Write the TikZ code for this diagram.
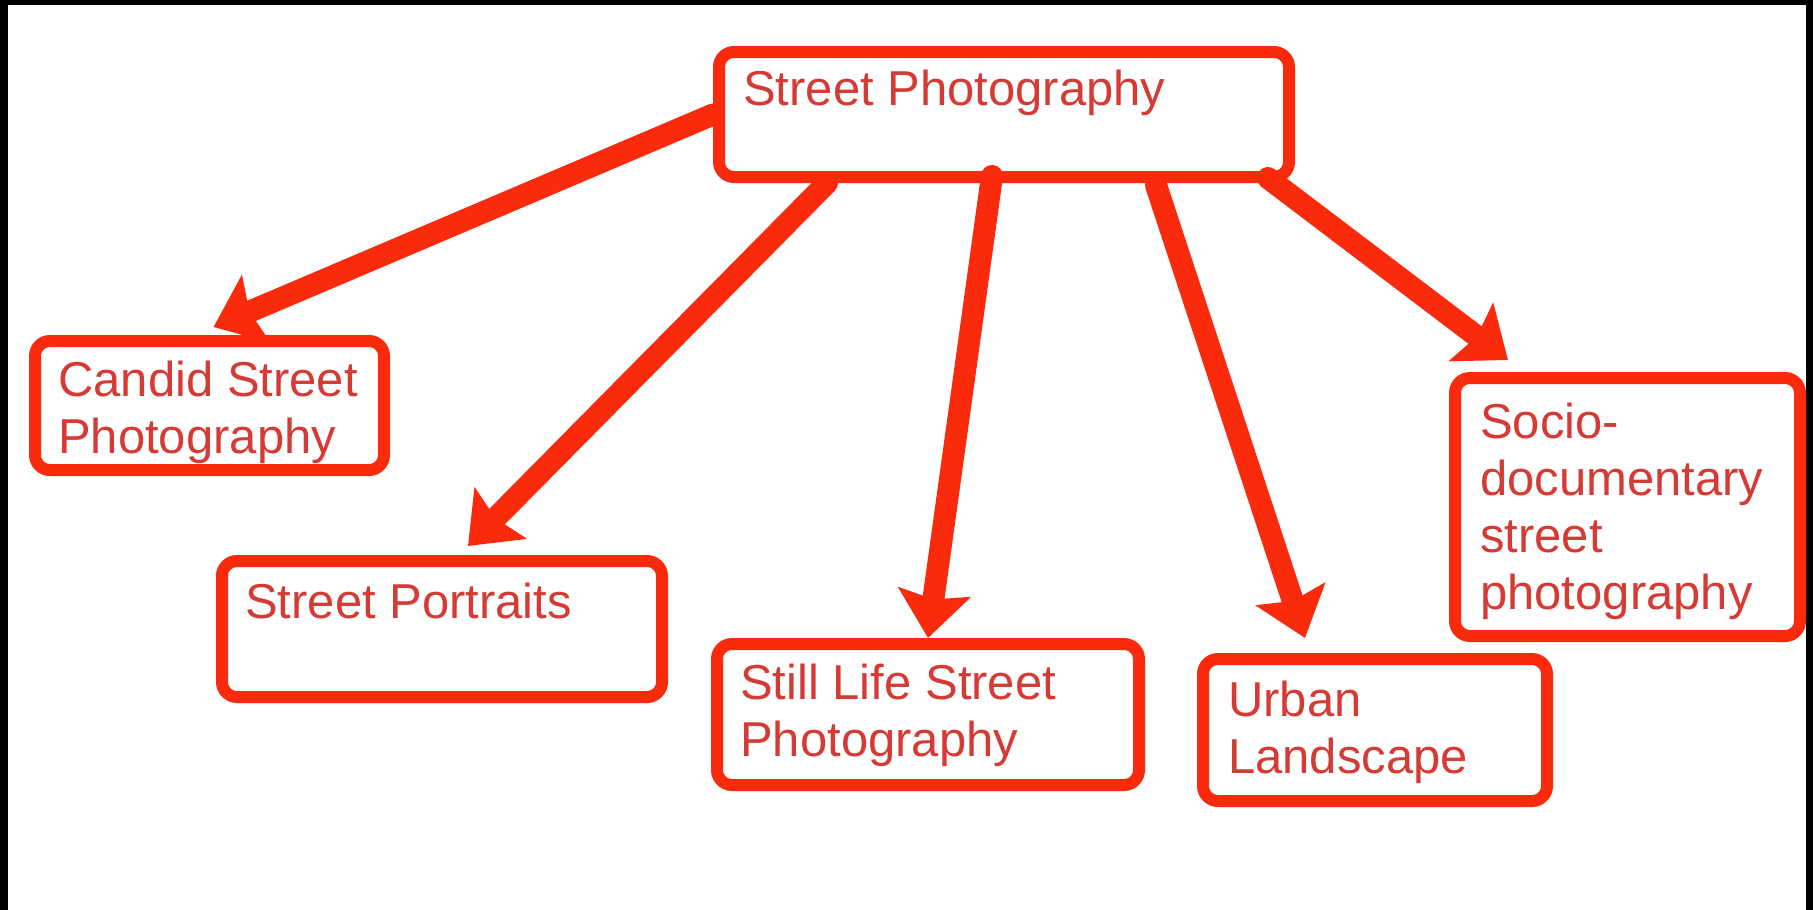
\documentclass[tikz,border=0pt]{standalone}
\usepackage{fontspec}
\setmainfont{Liberation Sans}
\usetikzlibrary{arrows.meta,shadows}
\definecolor{boxred}{RGB}{250,42,12}
\definecolor{textred}{RGB}{214,58,52}

\begin{document}
\begin{tikzpicture}[x=1pt,y=-1pt,
    topic/.style ={rectangle, draw=boxred, line width=12pt, rounded corners=15pt, fill=white, inner sep=0pt,
      drop shadow={opacity=0.25, shadow xshift=2pt, shadow yshift=-6pt}},
    boxtext/.style ={anchor=north west, inner sep=0pt, align=left, text=textred,
      font=\fontsize{49}{57}\selectfont},
    link/.style ={draw=boxred, line width=22pt, line cap=round,
      -{Stealth[length=46pt,width=72pt,inset=7pt]}}]
   \useasboundingbox (0,0) rectangle (1813,910);
   \fill[black] (0,0) rectangle (1813,910);
   \fill[white] (8,5) rectangle (1806,910);
   % boxes
   \node[topic, minimum width=570pt, minimum height=125pt] (street)    at (1004,114.5) {};
   \node[topic, minimum width=349pt, minimum height=129pt] (candid)    at (209.5,405.5) {};
   \node[topic, minimum width=440pt, minimum height=136pt] (portraits) at (442,629) {};
   \node[topic, minimum width=422pt, minimum height=141pt] (stilllife) at (928,714.5) {};
   \node[topic, minimum width=344pt, minimum height=142pt] (urban)     at (1375,730) {};
   \node[topic, minimum width=345pt, minimum height=258pt] (socio)     at (1627.5,507) {};
   % texts
   \node[boxtext] (streettxt)    at (743,70)   {Street Photography};
   \node[boxtext] (candidtxt)    at (58,361)   {Candid Street\\Photography};
   \node[boxtext] (portraitstxt) at (245,583)  {Street Portraits};
   \node[boxtext] (stilllifetxt) at (740,664)  {Still Life Street\\Photography};
   \node[boxtext] (urbantxt)     at (1228,681) {Urban\\Landscape};
   \node[boxtext] (sociotxt)     at (1480,403) {Socio-\\documentary\\street\\photography};
   % arrows
   \draw[link] (street.west) to ([shift={(4,-8)}]candid.north);
   \draw[link] ([shift={(114,0)}]street.south west) to ([shift={(26,-9)}]portraits.north);
   \draw[link] ([shift={(-12,-7)}]street.south) to (stilllife.north);
   \draw[link] ([shift={(-139,2)}]street.south east) to ([shift={(-70,-15)}]urban.north);
   \draw[link] ([shift={(-27,-5)}]street.south east) to ([shift={(-119.5,-12)}]socio.north);
 \end{tikzpicture}
\end{document}
